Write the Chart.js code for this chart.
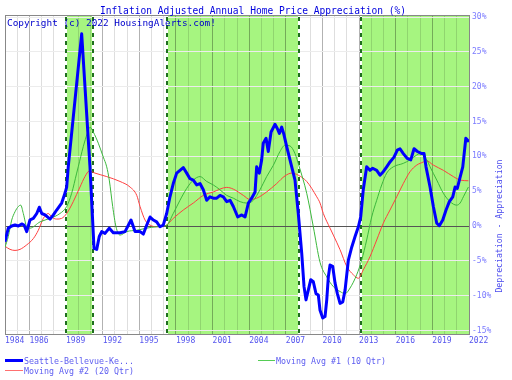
<!DOCTYPE html>
<html><head><meta charset="utf-8">
<script src="https://cdn.jsdelivr.net/npm/chart.js@4"></script>
<style>
html,body{margin:0;padding:0;background:#fff;}
#wrap{position:relative;width:512px;height:380px;overflow:hidden;font-family:"DejaVu Sans Mono",monospace;}
canvas{position:absolute;left:0;top:0;}
.t{position:absolute;white-space:pre;line-height:1;}
.ln{position:absolute;}
</style></head><body>
<div id="wrap">
<canvas id="c" width="512" height="380"></canvas>
<div class="t" style="left:100px;top:6px;font-size:9.6px;color:#0000dd">Inflation Adjusted Annual Home Price Appreciation (%)</div>
<div class="t" style="left:7px;top:18px;font-size:9.4px;color:#0000cc">Copyright (c) 2022 HousingAlerts.com!</div>
<div class="ln" style="left:5px;top:359px;width:18px;height:3px;background:#0000ff"></div>
<div class="t" style="left:24px;top:356.5px;font-size:8.3px;color:#5c5cf0">Seattle-Bellevue-Ke...</div>
<div class="ln" style="left:5px;top:370px;width:18px;height:1px;background:#ff7070"></div>
<div class="t" style="left:24px;top:366.5px;font-size:8.3px;color:#5c5cf0">Moving Avg #2 (20 Qtr)</div>
<div class="ln" style="left:258px;top:360px;width:17px;height:1px;background:#55cc55"></div>
<div class="t" style="left:276px;top:356.5px;font-size:8.3px;color:#5c5cf0">Moving Avg #1 (10 Qtr)</div>
</div>
<script>
// ---- data ----
const labelYears = [1984,1986,1989,1992,1995,1998,2001,2004,2007,2010,2013,2016,2019,2022];
const yTicks = [-15,-10,-5,0,5,10,15,20,25,30];
const bandStarts = [1989.0, 1997.29, 2013.15];
const bandEnds   = [1991.23, 2008.1, 2022.0];

const seattleYears = [1984.00,1984.27,1984.55,1984.82,1985.09,1985.37,1985.56,1985.78,1986.05,1986.32,1986.60,1986.81,1987.01,1987.28,1987.69,1987.96,1988.23,1988.64,1988.91,1989.05,1989.18,1990.28,1990.96,1991.29,1991.51,1991.72,1991.92,1992.19,1992.54,1992.87,1993.42,1993.83,1994.32,1994.65,1995.06,1995.33,1995.61,1995.88,1996.15,1996.42,1996.69,1996.96,1997.24,1997.51,1997.78,1998.06,1998.33,1998.60,1998.88,1999.15,1999.42,1999.70,1999.97,2000.24,2000.52,2000.79,2001.06,2001.34,2001.61,2001.88,2002.16,2002.43,2002.70,2003.06,2003.39,2003.66,2003.93,2004.20,2004.48,2004.61,2004.83,2005.02,2005.15,2005.38,2005.56,2005.79,2006.11,2006.30,2006.47,2006.66,2006.85,2007.07,2007.34,2007.75,2008.02,2008.30,2008.49,2008.65,2008.84,2009.04,2009.25,2009.47,2009.66,2009.80,2010.02,2010.21,2010.35,2010.48,2010.62,2010.84,2011.03,2011.22,2011.44,2011.66,2011.85,2012.12,2012.40,2012.67,2012.94,2013.13,2013.34,2013.62,2013.89,2014.11,2014.44,2014.71,2014.98,2015.26,2015.53,2015.86,2016.13,2016.35,2016.62,2016.95,2017.23,2017.50,2017.77,2018.13,2018.32,2018.48,2018.81,2019.08,2019.36,2019.57,2019.85,2020.12,2020.39,2020.67,2020.86,2021.04,2021.21,2021.49,2021.74,2022.00];
const seattleValues = [-2.25,-0.3,0.0,0.15,0.0,0.3,0.15,-0.8,0.9,1.1,1.8,2.7,1.8,1.6,1.0,1.6,2.3,3.3,4.7,5.6,8.5,27.6,8.5,-3.2,-3.35,-1.5,-0.8,-1.05,-0.3,-0.95,-0.95,-0.8,0.86,-0.8,-0.8,-1.15,0.15,1.3,0.86,0.6,-0.1,0.14,1.8,4.2,6.1,7.6,8.0,8.4,7.6,6.8,6.6,5.9,6.1,5.2,3.7,4.2,4.0,4.0,4.4,4.2,3.5,3.7,2.8,1.3,1.6,1.3,3.3,4.0,4.9,8.5,7.6,9.5,11.9,12.6,10.7,13.5,14.6,14.0,13.3,14.2,13.1,11.4,9.5,6.6,1.8,-3.9,-8.7,-10.6,-9.2,-7.7,-8.0,-9.7,-9.9,-12.1,-13.2,-13.0,-10.6,-7.3,-5.6,-5.8,-8.2,-9.7,-11.1,-10.9,-9.2,-4.9,-3.0,-1.5,-0.1,1.3,5.2,8.5,8.0,8.3,8.0,7.3,7.8,8.5,9.2,9.9,10.9,11.1,10.4,9.7,9.5,11.1,10.7,10.4,10.4,8.5,5.6,2.8,0.4,0.05,0.86,2.3,3.5,4.2,5.6,5.4,6.6,8.5,12.6,12.1];

const ma10Years = [1984.00,1984.27,1984.55,1984.82,1985.09,1985.29,1985.50,1985.78,1986.05,1986.87,1987.69,1988.50,1989.05,1989.46,1989.87,1990.00,1990.41,1990.74,1990.96,1991.23,1991.64,1992.05,1992.33,1992.54,1992.82,1993.09,1993.42,1993.97,1994.79,1995.61,1996.42,1997.24,1997.78,1998.33,1998.88,1999.42,1999.97,2000.52,2001.06,2001.61,2002.16,2002.70,2003.25,2003.80,2004.34,2004.88,2005.43,2005.97,2006.52,2006.93,2007.34,2007.75,2008.10,2008.71,2009.25,2009.80,2010.35,2010.89,2011.44,2011.85,2012.26,2012.80,2013.21,2013.62,2014.03,2014.44,2014.85,2015.26,2015.80,2016.62,2017.17,2017.72,2017.99,2018.54,2018.81,2019.36,2019.90,2020.45,2020.99,2021.27,2021.54,2021.95];
const ma10Values = [-3.05,-1.5,0.86,2.05,2.8,3.0,1.8,-0.1,-0.3,0.6,1.1,1.8,2.8,4.7,7.6,8.5,11.4,13.3,14.2,13.5,11.9,9.9,8.5,6.6,2.8,-0.1,-1.3,-0.8,-0.6,-0.3,-0.1,0.14,1.8,3.7,5.4,6.6,7.1,6.4,5.9,5.2,4.4,4.0,3.5,3.3,3.7,5.2,7.1,8.7,10.7,11.6,11.5,10.4,8.5,4.7,-0.1,-5.2,-7.3,-8.7,-9.4,-9.7,-8.9,-7.0,-4.9,-2.0,1.3,3.7,5.9,7.6,8.5,9.0,9.5,10.2,10.4,9.5,8.5,6.6,4.7,3.5,3.0,3.3,4.2,5.6];

const ma20Years = [1984.00,1984.41,1984.82,1985.23,1985.78,1986.32,1986.73,1987.14,1987.55,1987.82,1988.23,1988.64,1989.05,1989.59,1990.14,1990.55,1990.90,1991.37,1992.33,1993.42,1994.24,1994.79,1995.06,1995.47,1995.88,1996.42,1996.96,1997.24,1997.78,1998.60,1999.42,2000.24,2001.06,2002.16,2002.70,2003.52,2004.07,2004.61,2005.43,2006.25,2006.93,2007.48,2008.02,2008.71,2009.53,2009.80,2010.07,2010.62,2010.89,2011.44,2011.99,2012.53,2012.94,2013.34,2013.89,2014.44,2014.98,2015.53,2016.08,2016.62,2017.17,2017.72,2018.26,2018.48,2019.08,2019.90,2020.72,2021.27,2021.95];
const ma20Values = [-2.9,-3.35,-3.5,-3.35,-2.7,-1.8,-0.6,1.1,1.8,1.3,1.0,1.1,1.8,3.5,5.6,7.1,7.9,7.6,7.1,6.4,5.6,4.4,2.8,0.86,0.14,-0.1,0.0,0.14,1.1,2.3,3.3,4.4,4.9,5.55,5.3,4.4,3.8,4.0,4.9,6.1,7.2,7.6,7.3,6.4,4.2,3.3,1.8,-0.3,-1.3,-3.4,-5.8,-7.0,-7.5,-6.3,-4.4,-2.0,0.4,2.3,4.2,6.1,7.8,8.75,9.2,9.4,8.75,8.0,7.1,6.6,6.5];

const pts = (xs, ys) => xs.map((x, i) => ({x: x, y: ys[i]}));
const allYears = [];
for (let y = labelYears[0]; y <= labelYears[labelYears.length - 1]; y++) allYears.push(y);

const FONT = '"DejaVu Sans Mono", monospace';

const bandsPlugin = {
  id: 'bands',
  beforeDraw(chart) {
    const {ctx, chartArea: a, scales: {x}} = chart;
    ctx.save();
    ctx.fillStyle = '#a6f580';
    for (let i = 0; i < bandStarts.length; i++) {
      const x0 = x.getPixelForValue(bandStarts[i]);
      const x1 = x.getPixelForValue(bandEnds[i]);
      ctx.fillRect(x0, a.top, x1 - x0, a.bottom - a.top);
    }
    ctx.restore();
  },
  beforeDatasetsDraw(chart) {
    const {ctx, chartArea: a, scales: {x}} = chart;
    ctx.save();
    const edges = [];
    for (let i = 0; i < bandStarts.length; i++) {
      edges.push(bandStarts[i]);
      if (bandEnds[i] < x.max) edges.push(bandEnds[i]);
    }
    edges.forEach(v => {
      const px = Math.round(x.getPixelForValue(v));
      ctx.setLineDash([]);
      ctx.strokeStyle = '#ffffff';
      ctx.lineWidth = 2;
      ctx.beginPath(); ctx.moveTo(px, a.top); ctx.lineTo(px, a.bottom); ctx.stroke();
      ctx.setLineDash([4, 4]);
      ctx.strokeStyle = '#1f6e1f';
      ctx.beginPath(); ctx.moveTo(px, a.top + 2); ctx.lineTo(px, a.bottom); ctx.stroke();
    });
    ctx.setLineDash([]);
    ctx.strokeStyle = '#888888';
    ctx.lineWidth = 1;
    ctx.strokeRect(Math.round(a.left) + 0.5, Math.round(a.top) + 0.5, Math.round(a.right - a.left), Math.round(a.bottom - a.top));
    ctx.restore();
  },
  afterDraw(chart) {
    const {ctx, scales: {y}} = chart;
    ctx.save();
    ctx.translate(499.5, y.getPixelForValue(0));
    ctx.rotate(-Math.PI / 2);
    ctx.textAlign = 'center';
    ctx.textBaseline = 'middle';
    ctx.font = '8.2px ' + FONT;
    ctx.fillStyle = '#4a4aee';
    ctx.fillText('Depreciation - Appreciation', 0, 0);
    ctx.restore();
  }
};

new Chart(document.getElementById('c'), {
  type: 'line',
  data: {
    datasets: [
      {label: 'Seattle-Bellevue-Kent', data: pts(seattleYears, seattleValues), borderColor: '#0000ff', borderWidth: 3, pointRadius: 0, tension: 0, borderJoinStyle: 'round'},
      {label: 'Moving Avg #1 (10 Qtr)', data: pts(ma10Years, ma10Values), borderColor: '#3cb83c', borderWidth: 1, pointRadius: 0, cubicInterpolationMode: 'monotone'},
      {label: 'Moving Avg #2 (20 Qtr)', data: pts(ma20Years, ma20Values), borderColor: '#ff4040', borderWidth: 1, pointRadius: 0, cubicInterpolationMode: 'monotone'}
    ]
  },
  options: {
    responsive: false,
    animation: false,
    events: [],
    layout: {padding: {left: 5, top: 15, right: 0, bottom: 0}},
    plugins: {legend: {display: false}, tooltip: {enabled: false}, title: {display: false}},
    scales: {
      x: {
        type: 'linear',
        min: labelYears[0],
        max: labelYears[labelYears.length - 1],
        afterBuildTicks: s => { s.ticks = allYears.map(v => ({value: v})); },
        afterFit: s => { s.height = 46; },
        border: {display: false},
        grid: {
          drawTicks: false,
          color: c => (c.tick && labelYears.includes(c.tick.value)) ? 'rgba(0,0,0,0.30)' : 'rgba(0,0,0,0.13)',
          lineWidth: 1
        },
        ticks: {
          autoSkip: false, maxRotation: 0, minRotation: 0, align: 'start', padding: 2,
          color: '#5555ee', font: {family: FONT, size: 8},
          callback: v => labelYears.includes(v) ? String(v) : ''
        }
      },
      y: {
        type: 'linear',
        position: 'right',
        min: -15.5,
        max: 30.3,
        afterBuildTicks: s => { s.ticks = yTicks.map(v => ({value: v})); },
        afterFit: s => { s.width = 43; },
        border: {display: false},
        grid: {
          drawTicks: false,
          color: c => (c.tick && c.tick.value === 0) ? '#555555' : '#ececec',
          lineWidth: 1
        },
        ticks: {
          padding: 3, color: '#7b7bff', font: {family: FONT, size: 8},
          callback: v => v + '%'
        }
      }
    }
  },
  plugins: [bandsPlugin]
});
</script>
</body></html>
